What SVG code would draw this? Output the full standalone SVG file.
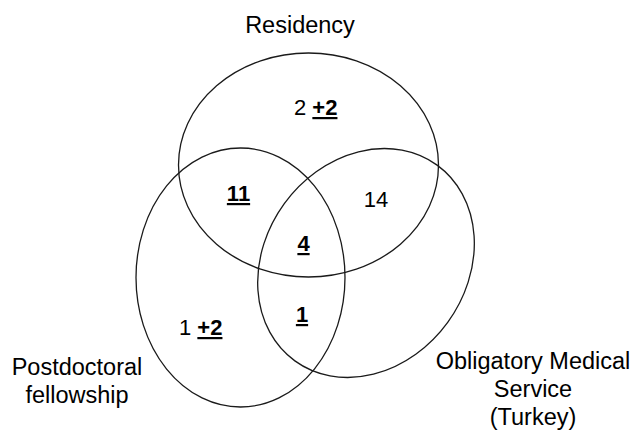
<svg xmlns="http://www.w3.org/2000/svg" width="635" height="430" viewBox="0 0 635 430">
<style>
.set{fill:none;stroke:#1a1a1a;stroke-width:1.3}
.lbl{font-family:"Liberation Sans",Arial,sans-serif;font-size:23.5px;fill:#000;text-anchor:middle}
.num{font-family:"Liberation Sans",Arial,sans-serif;font-size:22px;fill:#000}
.b{font-weight:bold;text-decoration:underline}
</style>
<rect width="635" height="430" fill="#fff"/>
<g id="connectors"></g>
<g id="residency">
<ellipse class="set" cx="308.5" cy="165" rx="130" ry="112"/>
<text class="lbl" x="300" y="33">Residency</text>
</g>
<g id="postdoctoral">
<ellipse class="set" cx="240.5" cy="277.5" rx="104.5" ry="129.5"/>
<text class="lbl" x="77" y="375">Postdoctoral</text>
<text class="lbl" x="77" y="403">fellowship</text>
</g>
<g id="obligatory">
<ellipse class="set" cx="366" cy="263" rx="121" ry="101" transform="rotate(-54 366 263)"/>
<text class="lbl" x="533" y="369">Obligatory Medical</text>
<text class="lbl" x="533" y="397">Service</text>
<text class="lbl" x="533" y="425">(Turkey)</text>
</g>
<g id="counts">
<text class="num" x="294" y="115">2 <tspan class="b">+2</tspan></text>
<text class="num b" x="238.5" y="201" text-anchor="middle">11</text>
<text class="num" x="376" y="207" text-anchor="middle">14</text>
<text class="num b" x="303.5" y="251" text-anchor="middle">4</text>
<text class="num b" x="302" y="322" text-anchor="middle">1</text>
<text class="num" x="179" y="335">1 <tspan class="b">+2</tspan></text>
</g>
</svg>
